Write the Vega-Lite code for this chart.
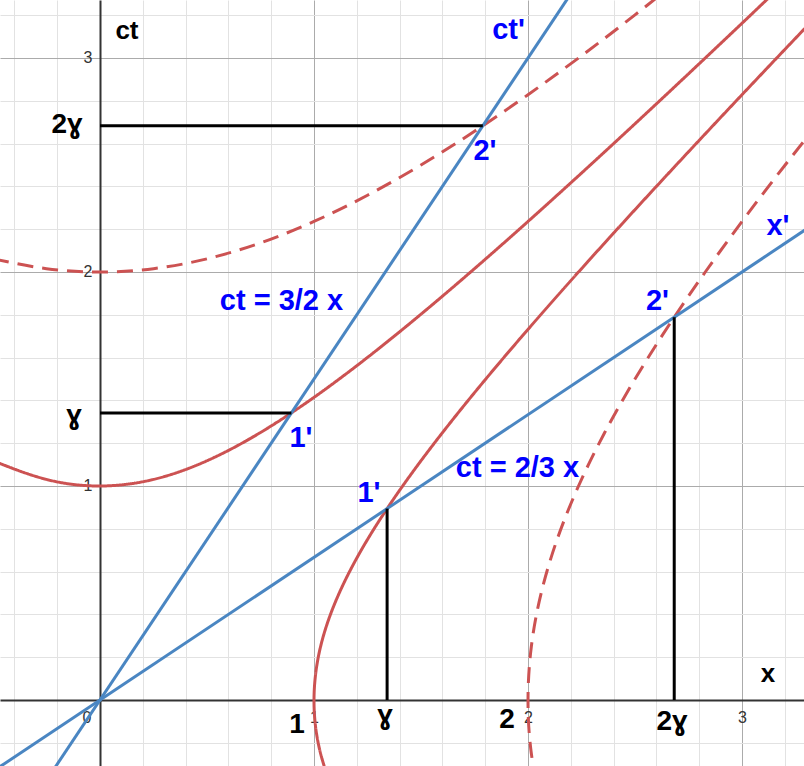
{
  "$schema": "https://vega.github.io/schema/vega-lite/v6.json",
  "width": 804,
  "height": 766,
  "padding": 0,
  "autosize": {"type": "none"},
  "background": "white",
  "datasets": {
    "hyper": [
      {"curve": "u1", "style": "solid", "i": 0, "x": -0.5, "ct": 1.118},
      {"curve": "u1", "style": "solid", "i": 1, "x": -0.25, "ct": 1.0308},
      {"curve": "u1", "style": "solid", "i": 2, "x": 0, "ct": 1},
      {"curve": "u1", "style": "solid", "i": 3, "x": 0.25, "ct": 1.0308},
      {"curve": "u1", "style": "solid", "i": 4, "x": 0.5, "ct": 1.118},
      {"curve": "u1", "style": "solid", "i": 5, "x": 0.75, "ct": 1.25},
      {"curve": "u1", "style": "solid", "i": 6, "x": 1, "ct": 1.4142},
      {"curve": "u1", "style": "solid", "i": 7, "x": 1.25, "ct": 1.6008},
      {"curve": "u1", "style": "solid", "i": 8, "x": 1.5, "ct": 1.8028},
      {"curve": "u1", "style": "solid", "i": 9, "x": 1.75, "ct": 2.0156},
      {"curve": "u1", "style": "solid", "i": 10, "x": 2, "ct": 2.2361},
      {"curve": "u1", "style": "solid", "i": 11, "x": 2.25, "ct": 2.4622},
      {"curve": "u1", "style": "solid", "i": 12, "x": 2.5, "ct": 2.6926},
      {"curve": "u1", "style": "solid", "i": 13, "x": 2.75, "ct": 2.9262},
      {"curve": "u1", "style": "solid", "i": 14, "x": 3, "ct": 3.1623},
      {"curve": "u1", "style": "solid", "i": 15, "x": 3.25, "ct": 3.4004},
      {"curve": "u2", "style": "dashed", "i": 0, "x": -0.5, "ct": 2.0616},
      {"curve": "u2", "style": "dashed", "i": 1, "x": -0.25, "ct": 2.0156},
      {"curve": "u2", "style": "dashed", "i": 2, "x": 0, "ct": 2},
      {"curve": "u2", "style": "dashed", "i": 3, "x": 0.25, "ct": 2.0156},
      {"curve": "u2", "style": "dashed", "i": 4, "x": 0.5, "ct": 2.0616},
      {"curve": "u2", "style": "dashed", "i": 5, "x": 0.75, "ct": 2.136},
      {"curve": "u2", "style": "dashed", "i": 6, "x": 1, "ct": 2.2361},
      {"curve": "u2", "style": "dashed", "i": 7, "x": 1.25, "ct": 2.3585},
      {"curve": "u2", "style": "dashed", "i": 8, "x": 1.5, "ct": 2.5},
      {"curve": "u2", "style": "dashed", "i": 9, "x": 1.75, "ct": 2.6575},
      {"curve": "u2", "style": "dashed", "i": 10, "x": 2, "ct": 2.8284},
      {"curve": "u2", "style": "dashed", "i": 11, "x": 2.25, "ct": 3.0104},
      {"curve": "u2", "style": "dashed", "i": 12, "x": 2.5, "ct": 3.2016},
      {"curve": "u2", "style": "dashed", "i": 13, "x": 2.75, "ct": 3.4004},
      {"curve": "r1", "style": "solid", "i": 0, "x": 1.118, "ct": -0.5},
      {"curve": "r1", "style": "solid", "i": 1, "x": 1.0308, "ct": -0.25},
      {"curve": "r1", "style": "solid", "i": 2, "x": 1, "ct": 0},
      {"curve": "r1", "style": "solid", "i": 3, "x": 1.0308, "ct": 0.25},
      {"curve": "r1", "style": "solid", "i": 4, "x": 1.118, "ct": 0.5},
      {"curve": "r1", "style": "solid", "i": 5, "x": 1.25, "ct": 0.75},
      {"curve": "r1", "style": "solid", "i": 6, "x": 1.4142, "ct": 1},
      {"curve": "r1", "style": "solid", "i": 7, "x": 1.6008, "ct": 1.25},
      {"curve": "r1", "style": "solid", "i": 8, "x": 1.8028, "ct": 1.5},
      {"curve": "r1", "style": "solid", "i": 9, "x": 2.0156, "ct": 1.75},
      {"curve": "r1", "style": "solid", "i": 10, "x": 2.2361, "ct": 2},
      {"curve": "r1", "style": "solid", "i": 11, "x": 2.4622, "ct": 2.25},
      {"curve": "r1", "style": "solid", "i": 12, "x": 2.6926, "ct": 2.5},
      {"curve": "r1", "style": "solid", "i": 13, "x": 2.9262, "ct": 2.75},
      {"curve": "r1", "style": "solid", "i": 14, "x": 3.1623, "ct": 3},
      {"curve": "r1", "style": "solid", "i": 15, "x": 3.4004, "ct": 3.25},
      {"curve": "r2", "style": "dashed", "i": 0, "x": 2.0616, "ct": -0.5},
      {"curve": "r2", "style": "dashed", "i": 1, "x": 2.0156, "ct": -0.25},
      {"curve": "r2", "style": "dashed", "i": 2, "x": 2, "ct": 0},
      {"curve": "r2", "style": "dashed", "i": 3, "x": 2.0156, "ct": 0.25},
      {"curve": "r2", "style": "dashed", "i": 4, "x": 2.0616, "ct": 0.5},
      {"curve": "r2", "style": "dashed", "i": 5, "x": 2.136, "ct": 0.75},
      {"curve": "r2", "style": "dashed", "i": 6, "x": 2.2361, "ct": 1},
      {"curve": "r2", "style": "dashed", "i": 7, "x": 2.3585, "ct": 1.25},
      {"curve": "r2", "style": "dashed", "i": 8, "x": 2.5, "ct": 1.5},
      {"curve": "r2", "style": "dashed", "i": 9, "x": 2.6575, "ct": 1.75},
      {"curve": "r2", "style": "dashed", "i": 10, "x": 2.8284, "ct": 2},
      {"curve": "r2", "style": "dashed", "i": 11, "x": 3.0104, "ct": 2.25},
      {"curve": "r2", "style": "dashed", "i": 12, "x": 3.2016, "ct": 2.5},
      {"curve": "r2", "style": "dashed", "i": 13, "x": 3.4004, "ct": 2.75}
    ],
    "frames": [
      {"axis": "ct'", "x": -0.5, "ct": -0.75},
      {"axis": "ct'", "x": 2.5, "ct": 3.75},
      {"axis": "x'", "x": -0.75, "ct": -0.5},
      {"axis": "x'", "x": 3.5, "ct": 2.3333}
    ],
    "segments": [
      {"x": 0, "x2": 1.7889, "ct": 2.6833, "ct2": 2.6833},
      {"x": 0, "x2": 0.8944, "ct": 1.3416, "ct2": 1.3416},
      {"x": 1.3416, "x2": 1.3416, "ct": 0, "ct2": 0.8944},
      {"x": 2.6833, "x2": 2.6833, "ct": 0, "ct2": 1.7889}
    ],
    "axisNames": [
      {"text": "ct", "x": 0.126, "ct": 3.089},
      {"text": "x", "x": 3.121, "ct": 0.084}
    ],
    "blackLabels": [
      {"text": "2ɣ", "x": -0.154, "ct": 2.65},
      {"text": "ɣ", "x": -0.121, "ct": 1.29},
      {"text": "1", "x": 0.921, "ct": -0.154},
      {"text": "ɣ", "x": 1.332, "ct": -0.112},
      {"text": "2", "x": 1.902, "ct": -0.131},
      {"text": "2ɣ", "x": 2.673, "ct": -0.14}
    ],
    "blueLabels": [
      {"text": "ct'", "x": 1.909, "ct": 3.089},
      {"text": "2'", "x": 1.799, "ct": 2.523},
      {"text": "ct = 3/2 x", "x": 0.848, "ct": 1.822},
      {"text": "1'", "x": 0.939, "ct": 1.182},
      {"text": "1'", "x": 1.257, "ct": 0.925},
      {"text": "ct = 2/3 x", "x": 1.951, "ct": 1.042},
      {"text": "2'", "x": 2.605, "ct": 1.822},
      {"text": "x'", "x": 3.168, "ct": 2.173}
    ]
  },
  "layer": [
    {
      "data": {"name": "hyper"},
      "mark": {"type": "line", "interpolate": "natural", "strokeWidth": 3, "color": "#CC5252", "clip": true},
      "encoding": {
        "x": {
          "field": "x", "type": "quantitative",
          "scale": {"domain": [-0.4673, 3.2897], "nice": false, "zero": false},
          "axis": {
            "orient": "bottom", "title": null, "labels": false, "ticks": false, "domain": false,
            "grid": true, "gridColor": "#E2E2E2", "gridWidth": 1,
            "values": [-0.4, -0.2, 0.2, 0.4, 0.6, 0.8, 1.2, 1.4, 1.6, 1.8, 2.2, 2.4, 2.6, 2.8, 3.2]
          }
        },
        "y": {
          "field": "ct", "type": "quantitative",
          "scale": {"domain": [-0.3084, 3.271], "nice": false, "zero": false},
          "axis": {
            "orient": "left", "title": null, "labels": false, "ticks": false, "domain": false,
            "grid": true, "gridColor": "#E2E2E2", "gridWidth": 1,
            "values": [-0.2, 0.2, 0.4, 0.6, 0.8, 1.2, 1.4, 1.6, 1.8, 2.2, 2.4, 2.6, 2.8, 3.2]
          }
        },
        "detail": {"field": "curve"},
        "order": {"field": "i", "type": "quantitative"},
        "strokeDash": {
          "field": "style", "type": "nominal",
          "scale": {"domain": ["solid", "dashed"], "range": [[1, 0], [16, 9]]},
          "legend": null
        }
      }
    },
    {
      "data": {"name": "frames"},
      "mark": {"type": "line", "strokeWidth": 3, "color": "#4A86C2", "clip": true},
      "encoding": {
        "x": {
          "field": "x", "type": "quantitative",
          "axis": {
            "orient": "bottom", "title": null, "labels": false, "ticks": false, "domain": false,
            "grid": true, "gridColor": "#ABABAB", "gridWidth": 1, "values": [1, 2, 3]
          }
        },
        "y": {
          "field": "ct", "type": "quantitative",
          "axis": {
            "orient": "left", "title": null, "labels": false, "ticks": false, "domain": false,
            "grid": true, "gridColor": "#ABABAB", "gridWidth": 1, "values": [1, 2, 3]
          }
        },
        "detail": {"field": "axis"}
      }
    },
    {
      "data": {"name": "segments"},
      "mark": {"type": "rule", "strokeWidth": 3, "color": "black", "clip": true},
      "encoding": {
        "x": {
          "field": "x", "type": "quantitative",
          "axis": {
            "orient": "bottom", "offset": -66, "title": null, "grid": false, "ticks": false,
            "domain": true, "domainColor": "#333333", "domainWidth": 2,
            "values": [0, 1, 2, 3], "labelFlush": false, "labelPadding": 9,
            "labelFont": "Liberation Sans", "labelFontSize": 16, "labelColor": "#333333",
            "labelAlign": {"condition": {"test": "datum.value === 0", "value": "right"}, "value": "center"},
            "labelOffset": {"condition": {"test": "datum.value === 0", "value": -9}, "value": 0}
          }
        },
        "x2": {"field": "x2"},
        "y": {
          "field": "ct", "type": "quantitative",
          "axis": {
            "orient": "left", "offset": -100, "title": null, "grid": false, "ticks": false,
            "domain": true, "domainColor": "#333333", "domainWidth": 2,
            "values": [1, 2, 3], "labelFlush": false, "labelPadding": 8,
            "labelFont": "Liberation Sans", "labelFontSize": 16, "labelColor": "#333333"
          }
        },
        "y2": {"field": "ct2"}
      }
    },
    {
      "data": {"name": "axisNames"},
      "mark": {"type": "text", "font": "Liberation Sans, DejaVu Sans", "fontWeight": "bold", "fontSize": 26, "color": "black", "align": "center", "baseline": "alphabetic"},
      "encoding": {
        "x": {"field": "x", "type": "quantitative", "axis": null},
        "y": {"field": "ct", "type": "quantitative", "axis": null},
        "text": {"field": "text"}
      }
    },
    {
      "data": {"name": "blackLabels"},
      "mark": {"type": "text", "font": "Liberation Sans, DejaVu Sans", "fontWeight": "bold", "fontSize": 28, "color": "black", "align": "center", "baseline": "alphabetic"},
      "encoding": {
        "x": {"field": "x", "type": "quantitative", "axis": null},
        "y": {"field": "ct", "type": "quantitative", "axis": null},
        "text": {"field": "text"}
      }
    },
    {
      "data": {"name": "blueLabels"},
      "mark": {"type": "text", "font": "Liberation Sans, DejaVu Sans", "fontWeight": "bold", "fontSize": 29, "color": "#0000FF", "align": "center", "baseline": "alphabetic"},
      "encoding": {
        "x": {"field": "x", "type": "quantitative", "axis": null},
        "y": {"field": "ct", "type": "quantitative", "axis": null},
        "text": {"field": "text"}
      }
    }
  ],
  "resolve": {"axis": {"x": "independent", "y": "independent"}},
  "config": {"view": {"stroke": null}}
}
